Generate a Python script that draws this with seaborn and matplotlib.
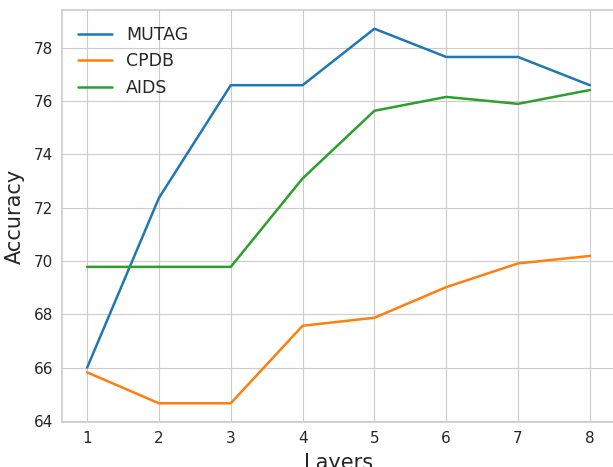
import seaborn as sns
import pandas as pd
import matplotlib.pyplot as plt

# Datos
layers = [1, 2, 3, 4, 5, 6, 7, 8]
mutag = [66.0, 72.37, 76.6, 76.6, 78.72, 77.66, 77.66, 76.6]
cpdb = [65.82, 64.66, 64.66, 67.57, 67.87, 69.02, 69.91, 70.19]
aids = [69.78, 69.78, 69.78, 73.1, 75.64, 76.16, 75.9, 76.42]

df = pd.DataFrame({
    'Layers': layers * 3,
    'Accuracy': mutag + cpdb + aids,
    'Dataset': ['MUTAG'] * 8 + ['CPDB'] * 8 + ['AIDS'] * 8,
})

sns.set_style('whitegrid')
plt.rcParams['font.family'] = ['DejaVu Sans']

fig = plt.figure(figsize=(6.13, 4.67), dpi=100)
ax = fig.add_axes([62 / 613, 45 / 467, 553 / 613, 412 / 467])

sns.lineplot(data=df, x='Layers', y='Accuracy', hue='Dataset',
             palette=['#1f77b4', '#ff7f0e', '#2ca02c'], linewidth=1.8, ax=ax)

ax.set_xticks(layers)
ax.tick_params(labelsize=11, colors='.15', pad=3)
ax.set_xlabel('Layers', fontsize=15, color='.15', labelpad=5)
ax.set_ylabel('Accuracy', fontsize=15, color='.15', labelpad=6)
for s in ax.spines.values():
    s.set_color('.8')
    s.set_linewidth(1.2)

leg = ax.legend(loc='upper left', fontsize=12.5, frameon=False)
for t in leg.get_texts():
    t.set_color('.15')

fig.savefig('out.png', dpi=100)
